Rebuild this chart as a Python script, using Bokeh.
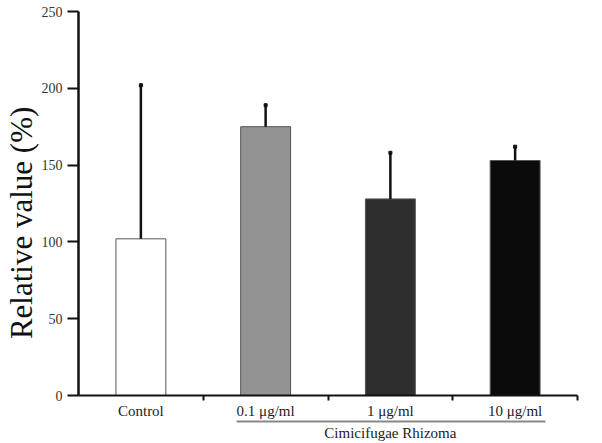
from bokeh.plotting import figure
from bokeh.models import Range1d, FixedTicker, LinearAxis, ColumnDataSource
from bokeh.embed import file_html
from bokeh.resources import INLINE

categories = ["Control", "0.1 \u03bcg/ml", "1 \u03bcg/ml", "10 \u03bcg/ml"]
values = [102, 175, 128, 153]
errors = [100, 14, 30, 9]
colors = ["#ffffff", "#939393", "#2e2e2e", "#0b0b0b"]
group_label = "Cimicifugae Rhizoma"
y_label = "Relative value (%)"
y_ticks = [0, 50, 100, 150, 200, 250]

xs = [i + 0.5 for i in range(len(categories))]
src = ColumnDataSource(dict(
    x=xs, top=values, upper=[v + e for v, e in zip(values, errors)], color=colors,
))

FONT = "Liberation Serif"

p = figure(width=602, height=443, output_backend="svg", toolbar_location=None,
           x_range=Range1d(0, 4), y_range=Range1d(0, 250),
           min_border_left=77, min_border_right=25, min_border_top=11, min_border_bottom=0)
p.outline_line_color = None
p.grid.visible = False
p.background_fill_color = "white"

p.vbar(x="x", width=0.4, top="top", bottom=0, fill_color="color",
       line_color="#555555", line_width=1, source=src)
p.segment(x0="x", y0="top", x1="x", y1="upper", line_color="#111111",
          line_width=2.5, source=src)
p.scatter(x="x", y="upper", marker="square", size=3, color="#111111", source=src)

# y axis
ya = p.yaxis[0]
ya.ticker = FixedTicker(ticks=y_ticks, minor_ticks=[])
ya.axis_line_width = 2.5
ya.axis_line_color = "#111111"
ya.major_tick_in = 0
ya.major_tick_out = 11
ya.major_tick_line_width = 2
ya.major_tick_line_color = "#111111"
ya.minor_tick_line_color = None
ya.major_label_text_font = FONT
ya.major_label_text_font_size = "14px"
ya.major_label_text_color = "#333333"
ya.major_label_standoff = 5
ya.axis_label = y_label + "\u00a0" * 5
ya.axis_label_text_font = FONT
ya.axis_label_text_font_size = "31px"
ya.axis_label_text_font_style = "normal"
ya.axis_label_text_color = "#111111"
ya.axis_label_standoff = 0

# x axis
xa = p.xaxis[0]
xa.ticker = FixedTicker(ticks=xs, minor_ticks=[1, 2, 3, 4])
xa.major_label_overrides = {x: c for x, c in zip(xs, categories)}
xa.axis_line_width = 2
xa.axis_line_color = "#111111"
xa.major_tick_line_color = None
xa.major_tick_in = 0
xa.major_tick_out = 4
xa.minor_tick_in = 0
xa.minor_tick_out = 5
xa.minor_tick_line_width = 2
xa.minor_tick_line_color = "#111111"
xa.major_label_text_font = FONT
xa.major_label_text_font_size = "15px"
xa.major_label_text_color = "#222222"
xa.major_label_standoff = 2

# group bracket axis
ga = LinearAxis(bounds=(1.27, 3.74), ticker=FixedTicker(ticks=[2.5], minor_ticks=[]))
ga.major_label_overrides = {2.5: group_label}
ga.axis_line_color = "#888888"
ga.axis_line_width = 2
ga.major_tick_line_color = None
ga.major_tick_in = 0
ga.major_tick_out = 0
ga.minor_tick_line_color = None
ga.major_label_text_font = FONT
ga.major_label_text_font_size = "15px"
ga.major_label_text_color = "#222222"
ga.major_label_standoff = 3
p.add_layout(ga, "below")

open("out.html", "w").write(file_html(p, INLINE))
